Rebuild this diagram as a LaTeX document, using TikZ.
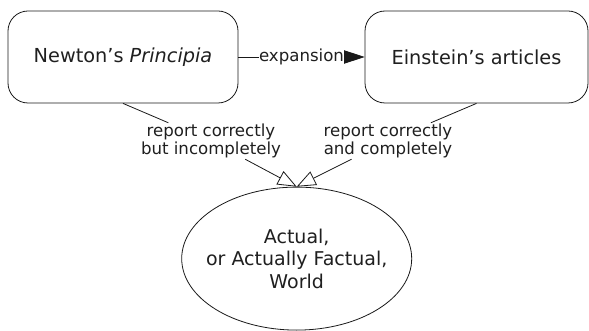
\documentclass[tikz,border=0pt]{standalone}
\usepackage{fontspec}
\setmainfont{DejaVu Sans}
\usetikzlibrary{arrows.meta,shapes.geometric}
\begin{document}
\begin{tikzpicture}[x=1pt,y=-1pt,
  ink/.style={draw=black!90,line width=0.8pt},
  box/.style={ink,rounded corners=20pt,align=center,text=black!88,font=\fontsize{19.3}{22}\selectfont},
  world/.style={ink,ellipse,inner ysep=0pt,inner xsep=-25pt,align=center,text=black!88,font=\fontsize{19}{22.5}\selectfont},
  lbl/.style={fill=white,inner sep=1pt,align=center,text=black!88,font=\fontsize{16.6}{18}\selectfont},
  opentip/.style={-{Triangle[open,length=19pt,width=15pt,fill=white]}},
  solidtip/.style={-{Triangle[length=23pt,width=15pt]}}]
\useasboundingbox (0,0) rectangle (589,331);
% the two accounts
\node[box,minimum width=230pt,minimum height=92pt] (newton) at (123,57) {Newton’s \textit{Principia}};
\node[box,minimum width=223pt,minimum height=92pt] (einstein) at (476.5,57) {Einstein’s articles};
% the world they describe
\node[world,minimum width=230pt,minimum height=143pt] (world) at (296.7,258.6) {Actual,\\or Actually Factual,\\World};
% labels sitting on the reporting connectors
\node[lbl] (repL) at (211,141) {report correctly\\but incompletely};
\node[lbl] (repR) at (388,141) {report correctly\\and completely};
% expansion arrow
\draw[ink,solidtip] (newton.east) -- node[lbl,pos=0.5,inner sep=0pt] {expansion} (einstein.west);
% reporting connectors
\draw[ink] (newton.south) -- (repL);
\draw[ink,opentip] (repL) -- (world.north);
\draw[ink] (einstein.south) -- (repR);
\draw[ink,opentip] (repR) -- (world.north);
\end{tikzpicture}
\end{document}
